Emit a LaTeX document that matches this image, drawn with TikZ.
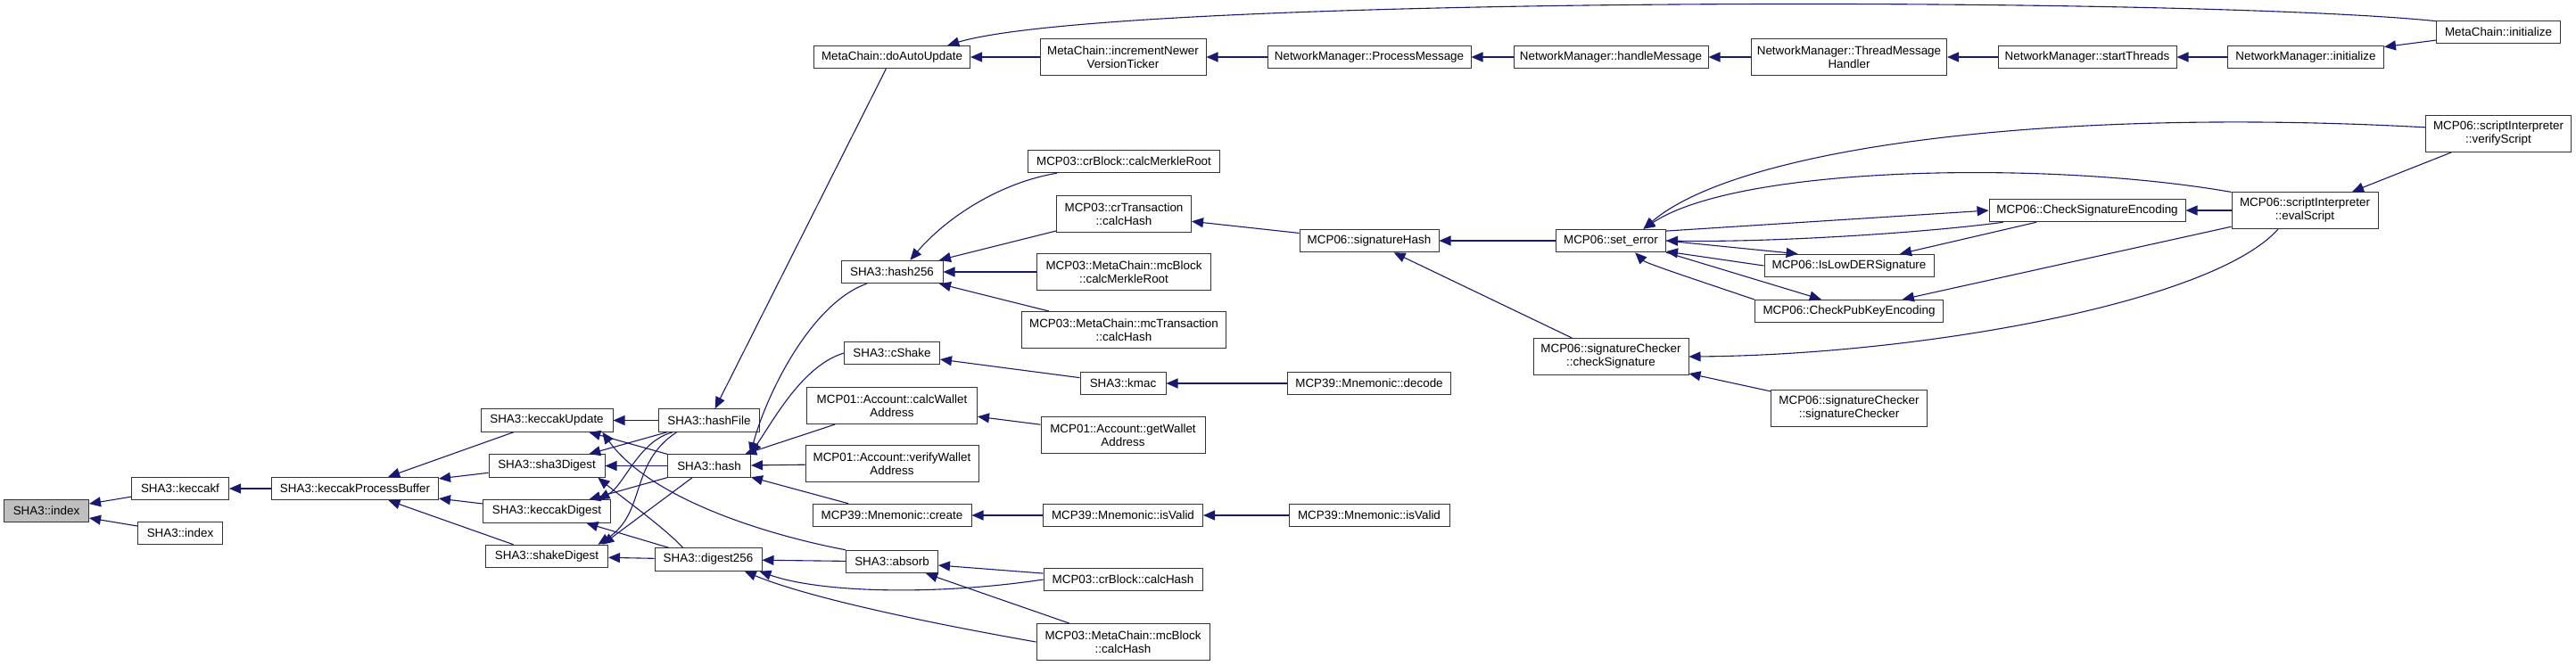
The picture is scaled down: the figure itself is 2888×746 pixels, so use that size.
\documentclass[tikz,border=0pt]{standalone}
\usepackage{fontspec}
\newfontfamily\dxfont{Liberation Sans}
\usepackage{tikz}
\usetikzlibrary{arrows.meta}
\definecolor{navyline}{RGB}{25,25,112}

\begin{document}
\begin{tikzpicture}[x=0.5pt,y=-0.5pt,
  fn/.style={draw=black!80, line width=0.5pt, fill=white, inner sep=0pt, minimum height=12.75pt, align=center, font=\dxfont\fontsize{6.7}{7.5}\selectfont},
  fntwo/.style={fn, minimum height=20.5pt},
  wd/.style={minimum width=#1*0.5pt},
  call/.style={draw=navyline, line width=0.55pt, -{Triangle[length=6.5pt,width=5.5pt]}}]
\useasboundingbox (0,0) rectangle (2888,746);
\node[fn,wd=95,fill=black!25] (idx) at (52,573) {SHA3::index};
\node[fn,wd=109] (kf) at (202,548) {SHA3::keccakf};
\node[fn,wd=95] (idxb) at (202,598) {SHA3::index};
\node[fn,wd=187] (kpb) at (398,548) {SHA3::keccakProcessBuffer};
\node[fn,wd=148] (kupd) at (613,471.5) {SHA3::keccakUpdate};
\node[fn,wd=130] (s3d) at (613,522.5) {SHA3::sha3Digest};
\node[fn,wd=143] (kdig) at (613,573.5) {SHA3::keccakDigest};
\node[fn,wd=137] (shk) at (613,624) {SHA3::shakeDigest};
\node[fn,wd=113] (hfile) at (795,471.5) {SHA3::hashFile};
\node[fn,wd=93] (hsh) at (795,522.5) {SHA3::hash};
\node[fn,wd=120] (d256) at (794,627.5) {SHA3::digest256};
\node[fn,wd=175] (dau) at (1000,64) {MetaChain::doAutoUpdate};
\node[fntwo,wd=186] (inv) at (1259,64) {MetaChain::incrementNewer\\VersionTicker};
\node[fn,wd=228] (pm) at (1535,64) {NetworkManager::ProcessMessage};
\node[fn,wd=218] (hm) at (1806,64) {NetworkManager::handleMessage};
\node[fntwo,wd=219] (tmh) at (2073,64) {NetworkManager::ThreadMessage\\Handler};
\node[fn,wd=200] (st) at (2340,64) {NetworkManager::startThreads};
\node[fn,wd=175] (nmi) at (2585,64) {NetworkManager::initialize};
\node[fn,wd=139] (mci) at (2801,36) {MetaChain::initialize};
\node[fn,wd=114] (h256) at (1000,305) {SHA3::hash256};
\node[fn,wd=215] (cbm) at (1260,181) {MCP03::crBlock::calcMerkleRoot};
\node[fntwo,wd=151] (ctc) at (1260,240) {MCP03::crTransaction\\::calcHash};
\node[fntwo,wd=195] (mbm) at (1260,305) {MCP03::MetaChain::mcBlock\\::calcMerkleRoot};
\node[fntwo,wd=229] (mtc) at (1260,370) {MCP03::MetaChain::mcTransaction\\::calcHash};
\node[fn,wd=156] (sh) at (1535,270) {MCP06::signatureHash};
\node[fn,wd=123] (se) at (1806,270) {MCP06::set\_error};
\node[fn,wd=220] (cse) at (2340,236) {MCP06::CheckSignatureEncoding};
\node[fn,wd=190] (ilds) at (2073,298) {MCP06::IsLowDERSignature};
\node[fn,wd=211] (cpke) at (2073,349) {MCP06::CheckPubKeyEncoding};
\node[fntwo,wd=164] (evs) at (2584,236) {MCP06::scriptInterpreter\\::evalScript};
\node[fntwo,wd=163] (vfs) at (2801,150) {MCP06::scriptInterpreter\\::verifyScript};
\node[fntwo,wd=174] (chs) at (1806,400) {MCP06::signatureChecker\\::checkSignature};
\node[fntwo,wd=175] (scs) at (2073,458) {MCP06::signatureChecker\\::signatureChecker};
\node[fn,wd=107] (csh) at (1000,396) {SHA3::cShake};
\node[fn,wd=96] (kmac) at (1259,430) {SHA3::kmac};
\node[fn,wd=183] (dec) at (1535,430) {MCP39::Mnemonic::decode};
\node[fntwo,wd=191] (cwa) at (1000,455) {MCP01::Account::calcWallet\\Address};
\node[fntwo,wd=184] (gwa) at (1259,488) {MCP01::Account::getWallet\\Address};
\node[fntwo,wd=194] (vwa) at (1000,520) {MCP01::Account::verifyWallet\\Address};
\node[fn,wd=178] (crt) at (1000,578) {MCP39::Mnemonic::create};
\node[fn,wd=179] (iva) at (1259,578) {MCP39::Mnemonic::isValid};
\node[fn,wd=180] (ivb) at (1535,578) {MCP39::Mnemonic::isValid};
\node[fn,wd=103] (absb) at (1000,630) {SHA3::absorb};
\node[fn,wd=178] (cbh) at (1259,650) {MCP03::crBlock::calcHash};
\node[fntwo,wd=194] (mbh) at (1259,720) {MCP03::MetaChain::mcBlock\\::calcHash};
\draw[call] (kf) -- (idx);
\draw[call] (idxb) -- (idx);
\draw[call] (kpb) -- (kf);
\draw[call] (kupd) -- (kpb);
\draw[call] (s3d) -- (kpb);
\draw[call] (kdig) -- (kpb);
\draw[call] (shk) -- (kpb);
\draw[call] (hfile) -- (kupd);
\draw[call] (hsh) -- (kupd);
\draw[call] (absb.north west) .. controls (860,600) and (730,560) .. (kupd.-12);
\draw[call] (hfile) -- (s3d);
\draw[call] (hsh) -- (s3d);
\draw[call] (d256.155) .. controls (745,592) and (700,560) .. (s3d.-13);
\draw[call] (hfile.198) .. controls (715,495) and (700,545) .. (kdig.13);
\draw[call] (hsh) -- (kdig);
\draw[call] (d256) -- (kdig);
\draw[call] (hfile.-160) .. controls (705,520) and (725,575) .. (shk.13);
\draw[call] (hsh.-145) -- (shk.12);
\draw[call] (d256) -- (shk);
\draw[call] (absb) -- (d256);
\draw[call] (cbh.west) .. controls (1050,668) and (920,665) .. (d256.-13);
\draw[call] (mbh.west) .. controls (1020,695) and (900,668) .. (d256.-18);
\draw[call] (cbh) -- (absb);
\draw[call] (mbh) -- (absb);
\draw[call] (dau) -- (hfile);
\draw[call] (inv) -- (dau);
\draw[call] (pm) -- (inv);
\draw[call] (hm) -- (pm);
\draw[call] (tmh) -- (hm);
\draw[call] (st) -- (tmh);
\draw[call] (nmi) -- (st);
\draw[call] (mci) -- (nmi);
\draw[call] (mci.170) .. controls (2450,-5) and (1250,-5) .. (dau.12);
\draw[call] (h256.-155) .. controls (910,340) and (860,440) .. (hsh.16);
\draw[call] (csh.west) .. controls (900,410) and (868,470) .. (hsh.16);
\draw[call] (cwa) -- (hsh);
\draw[call] (vwa) -- (hsh);
\draw[call] (crt) -- (hsh);
\draw[call] (cbm.-170) .. controls (1120,205) and (1060,245) .. (h256.33);
\draw[call] (ctc) -- (h256);
\draw[call] (mbm) -- (h256);
\draw[call] (mtc) -- (h256);
\draw[call] (sh) -- (ctc);
\draw[call] (se) -- (sh);
\draw[call] (chs) -- (sh);
\draw[call] (cse.-172) .. controls (2150,262) and (1980,272) .. (se.east);
\draw[call] (se.10) -- (cse.west);
\draw[call] (ilds.west) -- (se.-11);
\draw[call] (se.east) -- (ilds.167);
\draw[call] (cse) -- (ilds);
\draw[call] (cpke.173) .. controls (1890,310) and (1845,295) .. (se.-26);
\draw[call] (se.-12) -- (cpke.157);
\draw[call] (evs) -- (cse);
\draw[call] (evs) -- (cpke);
\draw[call] (evs.166) .. controls (2300,180) and (1950,185) .. (se.20);
\draw[call] (vfs.175) .. controls (2300,120) and (1950,165) .. (se.20);
\draw[call] (vfs) -- (evs);
\draw[call] (evs.-145) .. controls (2480,340) and (2150,398) .. (chs.east);
\draw[call] (scs) -- (chs);
\draw[call] (kmac) -- (csh);
\draw[call] (dec) -- (kmac);
\draw[call] (gwa) -- (cwa);
\draw[call] (iva) -- (crt);
\draw[call] (ivb) -- (iva);
\end{tikzpicture}
\end{document}
